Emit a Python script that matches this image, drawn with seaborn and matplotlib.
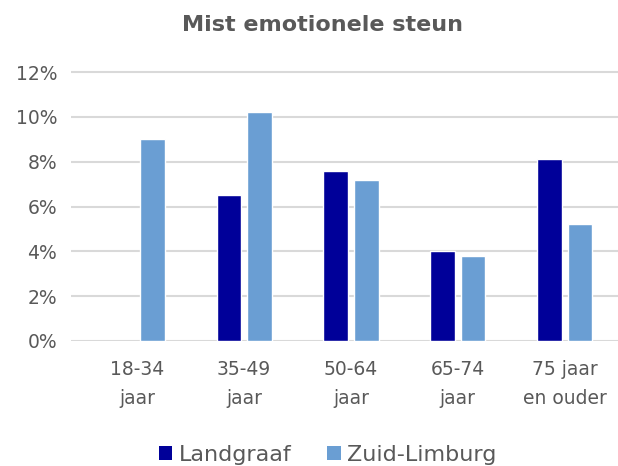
import numpy as np
import pandas as pd
import seaborn as sns
import matplotlib.pyplot as plt
from matplotlib.ticker import PercentFormatter
from matplotlib.patches import Patch

# data
categories = ['18-34\njaar', '35-49\njaar', '50-64\njaar', '65-74\njaar', '75 jaar\nen ouder']
landgraaf = [np.nan, 6.5, 7.6, 4.0, 8.1]
zuid_limburg = [9.0, 10.2, 7.2, 3.8, 5.2]
series = ['Landgraaf', 'Zuid-Limburg']
colors = ['#000099', '#6A9ED3']

df = pd.DataFrame({
    'leeftijd': categories * 2,
    'regio': [series[0]] * 5 + [series[1]] * 5,
    'waarde': landgraaf + zuid_limburg,
})

sns.set_style('white')
plt.rcParams['font.family'] = ['DejaVu Sans']
grey = '#595959'

fig = plt.figure(figsize=(6.18, 4.66), dpi=100)
ax = fig.add_axes([71 / 618, 1 - 341 / 466, 560 / 618, 271 / 466])

sns.barplot(data=df, x='leeftijd', y='waarde', hue='regio', palette=colors,
            saturation=1, width=0.574, gap=0.2, ax=ax, legend=False, zorder=3)

ax.set_ylim(0, 12.09)
ax.set_yticks(range(0, 13, 2))
ax.yaxis.set_major_formatter(PercentFormatter(decimals=0))
ax.set_xlim(-0.62, 4.62)
ax.grid(axis='y', color='#D9D9D9', linewidth=1.5, zorder=0)
for s in ax.spines.values():
    s.set_visible(False)
ax.set_xlabel('')
ax.set_ylabel('')
ax.tick_params(axis='both', length=0, colors=grey, labelsize=13.5)
ax.tick_params(axis='x', pad=14)
ax.tick_params(axis='y', pad=10)
for lab in ax.get_xticklabels():
    lab.set_linespacing(1.65)

fig.text(323 / 618, 1 - 25 / 466, 'Mist emotionele steun', ha='center', va='center',
         fontsize=16, fontweight='bold', color=grey)

handles = [Patch(facecolor=c, edgecolor='none') for c in colors]
fig.legend(handles, series, loc='center', bbox_to_anchor=(328 / 618, 1 - 455 / 466),
           ncol=2, frameon=False, fontsize=16, labelcolor=grey,
           handlelength=0.6, handleheight=0.6, handletextpad=0.3, columnspacing=1.6)

fig.savefig('out.png', dpi=100)
